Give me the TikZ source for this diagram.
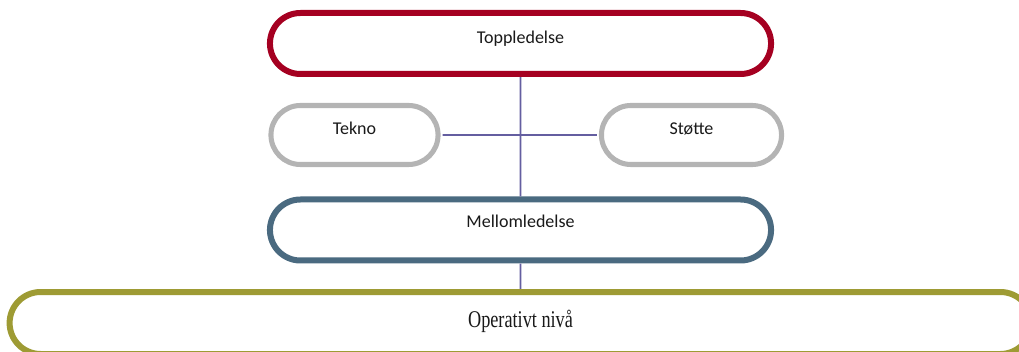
\documentclass[tikz,border=0pt]{standalone}
\usepackage{fontspec}
\setmainfont{Carlito}
\newfontfamily\opfont{Liberation Serif}
\usepackage{graphicx}
\usetikzlibrary{shapes.misc}
\definecolor{topred}{RGB}{165,0,33}
\definecolor{sidegray}{RGB}{180,180,180}
\definecolor{midblue}{RGB}{74,106,128}
\definecolor{opolive}{RGB}{158,155,52}
\definecolor{linkcol}{RGB}{100,94,160}

\begin{document}
\begin{tikzpicture}[x=0.75pt,y=-0.75pt,
  level/.style={rounded rectangle, draw, line width=4.5pt, fill=white,
    text=black!90, text height=1ex, text depth=1ex,
    font=\fontsize{13.5}{16}\selectfont},
  side/.style={level, draw=sidegray, line width=3.8pt,
    minimum height=44.25pt},
  link/.style={draw=linkcol, line width=1.2pt}]
  \useasboundingbox (0,0) rectangle (1019,352);

  \node [level, draw=topred, minimum width=382.5pt, minimum height=45.75pt]
    (top) at (520.5,43.5) {Toppledelse};
  \node [side, minimum width=132pt, text depth=1ex+1pt] (tekno) at (354.5,135) {Tekno};
  \node [side, minimum width=141.75pt, text depth=1ex+1pt] (stotte) at (691.5,135) {Støtte};
  \node [level, draw=midblue, minimum width=382.5pt, minimum height=45.75pt,
    text depth=1ex+3pt] (mellom) at (520.5,230) {Mellomledelse};
  \node [level, draw=opolive, minimum width=773pt, minimum height=46.5pt,
    text height=1ex+6pt, font=\opfont\fontsize{18}{21}\selectfont]
    (operativt) at (520.5,323) {\scalebox{0.76}[1]{Operativt nivå}};

  \draw [link] (top) -- (mellom);
  \draw [link, shorten <=1.5pt, shorten >=1.5pt] (tekno) -- (stotte);
  \draw [link] (mellom) -- (operativt);
\end{tikzpicture}
\end{document}
